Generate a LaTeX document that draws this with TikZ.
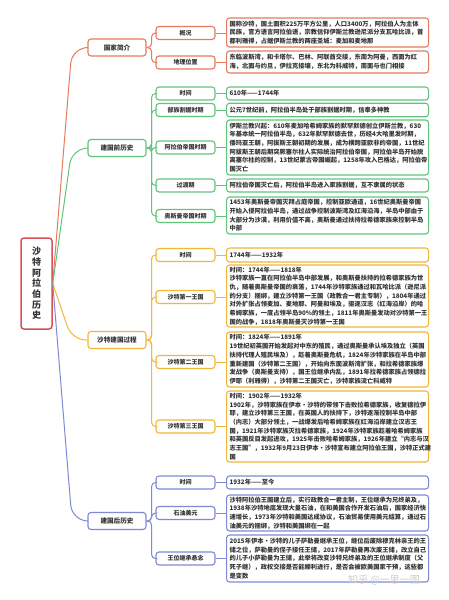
\documentclass[tikz,border=0pt]{standalone}
\usepackage{fontspec}
\setmainfont{Noto Sans CJK SC}
\definecolor{cRoot}{HTML}{D9505A}
\definecolor{cRed}{HTML}{E57A5E}
\definecolor{cGreen}{HTML}{62C47C}
\definecolor{cYel}{HTML}{F2B63A}
\definecolor{cBlue}{HTML}{7F89D6}
\definecolor{txt}{HTML}{333333}
\begin{document}
\begin{tikzpicture}[x=1pt,y=-1pt,
  rootbox/.style={draw=cRoot, line width=1.5pt, rounded corners=3pt, fill=white, minimum width=31pt, minimum height=91pt, inner sep=0pt, align=center, text=txt, font=\bfseries\fontsize{9}{10.7}\selectfont},
  lone/.style={draw=#1, line width=1.1pt, rounded corners=3pt, fill=white, minimum width=58pt, minimum height=17pt, inner sep=0pt, align=center, text=txt, font=\bfseries\fontsize{6.6}{8}\selectfont},
  ltwo/.style={draw=#1, line width=1.1pt, rounded corners=3pt, fill=white, minimum width=59pt, minimum height=13pt, inner sep=0pt, align=center, text=txt, font=\bfseries\fontsize{6}{7}\selectfont},
  lthree/.style={draw=#1, line width=1.1pt, rounded corners=3pt, fill=white, anchor=west, text width=196pt, inner xsep=3pt, inner ysep=0pt, align=left, text=txt, font=\bfseries\fontsize{6.25}{8.7}\selectfont},
  conn/.style={draw=#1, line width=1pt},
]
\useasboundingbox (0,0) rectangle (449,600);
\fill[white] (0,0) rectangle (449,600);
\coordinate (jx) at (72,0);

% root
\node[rootbox] (r) at (36.5,283.5) {沙\\特\\阿\\拉\\伯\\历\\史};

% level 1
\node[lone=cRed] (a) at (117,47.5) {国家简介};
\node[lone=cGreen] (b) at (117,148) {建国前历史};
\node[lone=cYel] (c) at (117,340) {沙特建国过程};
\node[lone=cBlue] (d) at (117,521) {建国后历史};

% level 2
\node[ltwo=cRed] (a1) at (185.5,33) {概况};
\node[ltwo=cRed] (a2) at (185.5,62.5) {地理位置};
\node[ltwo=cGreen] (b1) at (185.5,93.5) {时间};
\node[ltwo=cGreen] (b2) at (185.5,110) {部族割据时期};
\node[ltwo=cGreen] (b3) at (185.5,147.5) {阿拉伯帝国时期};
\node[ltwo=cGreen] (b4) at (185.5,185.5) {过渡期};
\node[ltwo=cGreen] (b5) at (185.5,216) {奥斯曼帝国时期};
\node[ltwo=cYel] (c1) at (185.5,255) {时间};
\node[ltwo=cYel] (c2) at (185.5,297) {沙特第一王国};
\node[ltwo=cYel] (c3) at (185.5,362) {沙特第二王国};
\node[ltwo=cYel] (c4) at (185.5,426.5) {沙特第三王国};
\node[ltwo=cBlue] (d1) at (185.5,482.5) {时间};
\node[ltwo=cBlue] (d2) at (185.5,513) {石油美元};
\node[ltwo=cBlue] (d3) at (185.5,558.5) {王位继承悬念};

% level 3
\node[lthree=cRed, minimum height=29pt] (a1t) at (226,32.5) {国称沙特，国土面积225万平方公里，人口3400万，阿拉伯人为主体\\民族，官方语言阿拉伯语，宗教信仰伊斯兰教逊尼派分支瓦哈比派，首\\都利雅得，占据伊斯兰教的两座圣城：麦加和麦地那};
\node[lthree=cRed, minimum height=22pt] (a2t) at (226,62) {东临波斯湾，和卡塔尔、巴林、阿联酋交接，东南为阿曼，西面为红\\海，北面与约旦，伊拉克接壤，东北为科威特，南面与也门相接};

\node[lthree=cGreen, minimum height=13pt] (b1t) at (226,93.5) {610年——1744年};
\node[lthree=cGreen, minimum height=13.5pt] (b2t) at (226,110) {公元7世纪前，阿拉伯半岛处于部族割据时期，信奉多神教};
\node[lthree=cGreen, minimum height=55pt] (b3t) at (226,147.5) {伊斯兰教兴起：610年麦加哈希姆家族的默罕默德创立伊斯兰教，630\\年基本统一阿拉伯半岛，632年默罕默德去世，历经4大哈里发时期，\\倭玛亚王朝，阿拔斯王朝初期的发展，成为横跨亚欧非的帝国，11世纪\\阿拔斯王朝后期突厥塞尔柱人实际统治阿拉伯帝国，阿拉伯半岛开始脱\\离塞尔柱的控制，13世纪蒙古帝国崛起，1258年攻入巴格达，阿拉伯帝\\国灭亡};
\node[lthree=cGreen, minimum height=13pt] (b4t) at (226,185.5) {阿拉伯帝国灭亡后，阿拉伯半岛进入家族割据，互不隶属的状态};
\node[lthree=cGreen, minimum height=37pt] (b5t) at (226,215.5) {1453年奥斯曼帝国灭拜占庭帝国，控制亚欧通道，16世纪奥斯曼帝国\\开始入侵阿拉伯半岛，通过战争控制波斯湾及红海沿海，半岛中部由于\\大部分为沙漠，利用价值不高，奥斯曼通过扶持拉希德家族来控制半岛\\中部};

\node[lthree=cYel, minimum height=14pt] (c1t) at (226,255) {1744年——1932年};
\node[lthree=cYel, minimum height=62pt] (c2t) at (226,296) {时间：1744年——1818年\\沙特家族一直在阿拉伯半岛中部发展，和奥斯曼扶持的拉希德家族为世\\仇，随着奥斯曼帝国的衰落，1744年沙特家族通过和瓦哈比派（逊尼派\\的分支）捆绑，建立沙特第一王国（政教合一君主专制），1804年通过\\对外扩张占领麦加、麦地那、阿曼和埃及，驱逐汉志（红海沿岸）的哈\\希姆家族，一度占领半岛90\%的领土，1811年奥斯曼发动对沙特第一王\\国的战争，1818年奥斯曼灭沙特第一王国};
\node[lthree=cYel, minimum height=55pt] (c3t) at (226,359.5) {时间：1824年——1891年\\19世纪初英国开始发起对中东的殖民，通过奥斯曼承认埃及独立（英国\\扶持代理人殖民埃及），趁着奥斯曼危机，1824年沙特家族在半岛中部\\重新建国（沙特第二王国），开始向东面波斯湾扩张，和拉希德家族爆\\发战争（奥斯曼支持），国王位继承内乱，1891年拉希德家族占领德拉\\伊耶（利雅得），沙特第二王国灭亡，沙特家族流亡科威特};
\node[lthree=cYel, minimum height=71pt] (c4t) at (226,426.5) {时间：1902年——1932年\\1902年，沙特家族在伊本·沙特的带领下击败拉希德家族，收复德拉伊\\耶，建立沙特第三王国，在英国人的扶持下，沙特逐渐控制半岛中部\\（内志）大部分领土，一战爆发后哈希姆家族在红海沿岸建立汉志王\\国，1921年沙特家族灭拉希德家族，1924年沙特家族趁着哈希姆家族\\和英国反目发起进攻，1925年击败哈希姆家族，1926年建立“内志与汉\\志王国”，1932年9月23日伊本·沙特宣布建立阿拉伯王国，沙特正式建\\国};

\node[lthree=cBlue, minimum height=13pt] (d1t) at (226,482.5) {1932年——至今};
\node[lthree=cBlue, minimum height=36pt] (d2t) at (226,513) {沙特阿拉伯王国建立后，实行政教合一君主制，王位继承为兄终弟及，\\1938年沙特地底发现大量石油，在和美国合作开发石油后，国家经济快\\速增长，1973年沙特和美国达成协议，石油贸易使用美元结算，通过石\\油美元的捆绑，沙特和美国绑在一起};
\node[lthree=cBlue, minimum height=47pt] (d3t) at (226,558.5) {2015年伊本·沙特的儿子萨勒曼继承王位，继位后废除穆克林亲王的王\\储之位，萨勒曼的侄子接任王储，2017年萨勒曼再次废王储，改立自己\\的儿子小萨勒曼为王储，此举将改变沙特兄终弟及的王位继承制度（父\\死子继），政权交接是否能顺利进行，是否会被欧美国家干预，这些都\\是变数};

% watermark
\node[text=gray!40, font=\fontsize{10}{10}\selectfont, inner sep=0pt] (wm) at (384,580) {知乎 @一思一图};

% root -> level 1
\draw[conn=cRed, rounded corners=16pt] (r.east) -- (a.west -| jx) -- (a.west);
\draw[conn=cGreen, rounded corners=16pt] (r.east) -- (b.west -| jx) -- (b.west);
\draw[conn=cYel, rounded corners=14pt] (r.east) -- (c.west -| jx) -- (c.west);
\draw[conn=cBlue, rounded corners=16pt] (r.east) -- (d.west -| jx) -- (d.west);

% level 1 -> level 2 -> level 3
\foreach \p/\k/\col in {a/a1/cRed, a/a2/cRed, b/b1/cGreen, b/b2/cGreen, b/b3/cGreen, b/b4/cGreen, b/b5/cGreen, c/c1/cYel, c/c2/cYel, c/c3/cYel, c/c4/cYel, d/d1/cBlue, d/d2/cBlue, d/d3/cBlue}{
  \draw[conn=\col, rounded corners=4pt] (\p.east) -- ++(5,0) |- (\k.west);
  \draw[conn=\col] (\k.east) -- (\k.east -| \k t.west);
}
\end{tikzpicture}
\end{document}
